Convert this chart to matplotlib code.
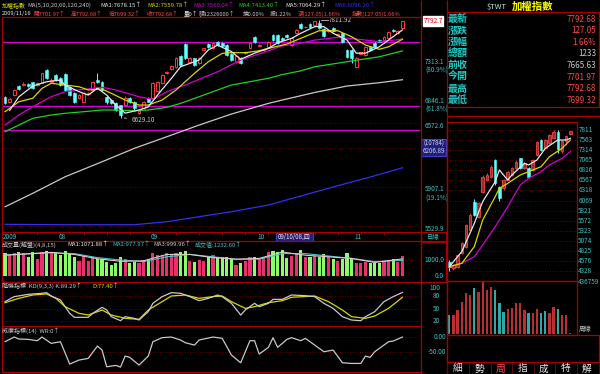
import numpy as np
import matplotlib
matplotlib.use("Agg")
import matplotlib.pyplot as plt
from matplotlib.patches import Rectangle

FONT = ['Noto Sans CJK TC', 'DejaVu Sans']
plt.rcParams['font.family'] = FONT

# ---- daily TAIEX candles, 2009/07 .. 2009/11/16 ----
opens = [6860, 6810, 6890, 6990, 7000, 7010, 7035, 7005, 7025, 7180,
         7035, 7120, 7085, 7130, 6980, 6910, 6850, 6805, 6900, 6944,
         7060, 7037, 6860, 6830, 6794, 6771, 6771, 6850, 6805, 6685,
         6737, 6850, 6851, 6930, 7025, 7145, 7195, 7216, 7350, 7500,
         7277, 7320, 7265, 7425, 7500, 7448, 7524, 7510, 7486, 7375,
         7277, 7325, 7390, 7448, 7587, 7480, 7425, 7461, 7613, 7613,
         7575, 7613, 7486, 7638, 7755, 7710, 7755, 7741, 7767, 7690,
         7665, 7703, 7615, 7638, 7424, 7424, 7216, 7380, 7362, 7461,
         7510, 7549, 7549, 7575, 7680, 7640, 7701.97]
highs = [6870, 6850, 6950, 7000, 7035, 7020, 7040, 7035, 7150, 7195,
         7080, 7135, 7100, 7140, 6990, 6920, 6895, 6920, 6925, 7050,
         7140, 7050, 6870, 6845, 6810, 6775, 6870, 6860, 6815, 6710,
         6815, 6860, 7035, 7050, 7130, 7170, 7235, 7335, 7360, 7510,
         7340, 7330, 7335, 7455, 7510, 7520, 7540, 7520, 7495, 7385,
         7360, 7335, 7415, 7520, 7600, 7500, 7450, 7535, 7625, 7625,
         7590, 7625, 7590, 7690, 7765, 7730, 7770, 7800, 7811.92, 7700,
         7690, 7715, 7640, 7650, 7435, 7435, 7335, 7405, 7470, 7475,
         7520, 7560, 7600, 7665, 7690, 7675, 7792.68]
lows = [6780, 6800, 6880, 6940, 6990, 6975, 6960, 6995, 7020, 7075,
        7020, 7050, 6990, 6930, 6870, 6790, 6840, 6800, 6890, 6935,
        7030, 6935, 6780, 6780, 6700, 6629.1, 6760, 6790, 6720, 6670,
        6725, 6800, 6840, 6920, 7015, 7135, 7185, 7205, 7230, 7310,
        7265, 7230, 7255, 7415, 7450, 7440, 7475, 7465, 7350, 7290,
        7265, 7255, 7380, 7440, 7515, 7470, 7415, 7450, 7540, 7500,
        7545, 7580, 7475, 7625, 7690, 7700, 7705, 7730, 7695, 7590,
        7655, 7655, 7605, 7510, 7325, 7265, 7200, 7370, 7350, 7415,
        7450, 7520, 7540, 7565, 7650, 7630, 7699.32]
closes = [6795, 6840, 6940, 6950, 7015, 6985, 6970, 7025, 7140, 7085,
          7065, 7060, 7000, 6945, 6885, 6805, 6885, 6910, 6910, 7037,
          7040, 6944, 6800, 6790, 6715, 6659, 6851, 6805, 6737, 6700,
          6805, 6810, 7025, 7040, 7120, 7160, 7225, 7325, 7240, 7325,
          7325, 7240, 7325, 7445, 7460, 7510, 7486, 7475, 7362, 7301,
          7350, 7265, 7405, 7510, 7524, 7490, 7440, 7524, 7549, 7510,
          7555, 7590, 7575, 7677, 7703, 7720, 7715, 7793, 7703, 7600,
          7680, 7665, 7630, 7524, 7338, 7325, 7325, 7395, 7461, 7424,
          7461, 7530, 7587, 7650, 7660, 7665.63, 7792.68]
volume = [1458, 1313, 1417, 1479, 1417, 1208, 1479, 1042, 1521, 1583,
          1417, 1521, 1313, 1583, 1417, 1167, 958, 1250, 958, 1167,
          1042, 1042, 896, 688, 833, 1208, 1042, 833, 896, 792,
          1000, 1042, 1417, 1313, 1313, 1458, 1375, 1417, 1521, 1583,
          958, 896, 1000, 958, 1208, 1313, 1167, 1208, 1167, 1042,
          688, 792, 958, 1167, 1208, 1042, 1167, 1479, 1583, 1521,
          1625, 1104, 1250, 1417, 1625, 1167, 1167, 1250, 1167, 1375,
          1167, 1042, 958, 1042, 1417, 1042, 833, 792, 896, 833,
          792, 792, 896, 958, 1042, 896, 1233]

months = ['2009', '08', '09', '10', '11']
month_idx = [0, 12, 32, 55, 76]

# moving averages, sampled along the lines (index, value)
ma5_x = [1, 3, 6, 9, 12, 13, 16, 18, 20, 22, 24, 26, 29, 31, 33, 36, 38, 42,
         44, 46, 49, 51, 54, 57, 59, 62, 64, 67, 69, 71, 74, 76, 78, 81, 83, 86]
ma5_v = [6710, 6865, 6990, 7040, 7060, 7000, 6925, 6885, 6965, 6885, 6770, 6680,
         6715, 6750, 6885, 7080, 7220, 7300, 7425, 7485, 7405, 7310, 7385, 7445,
         7515, 7570, 7635, 7720, 7720, 7635, 7550, 7385, 7385, 7465, 7550, 7678]
ma10_x = [0, 3, 6, 8, 10, 13, 16, 18, 21, 23, 26, 29, 31, 34, 37, 41, 44, 47,
          49, 52, 55, 58, 61, 64, 68, 72, 75, 78, 81, 83, 86]
ma10_v = [6696, 6809, 6848, 6963, 7022, 7002, 6982, 6944, 6955, 6905, 6828, 6771,
          6771, 6828, 6944, 7140, 7280, 7383, 7391, 7391, 7415, 7458, 7499, 7571,
          7668, 7668, 7591, 7486, 7433, 7465, 7560]
ma20_x = [0, 3, 6, 10, 13, 17, 21, 24, 29, 32, 35, 39, 46, 51, 57, 60, 64, 67,
          72, 77, 81, 86]
ma20_v = [6548, 6659, 6752, 6866, 6924, 6951, 6975, 6944, 6866, 6836, 6924, 7002,
          7159, 7301, 7415, 7475, 7508, 7549, 7583, 7556, 7528, 7560]
ma60_x = [0, 3, 6, 10, 13, 17, 21, 24, 28, 31, 35, 38, 42, 46, 49, 53, 57, 60,
          64, 67, 74, 81, 86]
ma60_v = [6475, 6548, 6622, 6659, 6678, 6696, 6715, 6715, 6707, 6715, 6745, 6790,
          6866, 6944, 7002, 7041, 7081, 7125, 7170, 7219, 7280, 7341, 7413]
ma120_x = [0, 6, 13, 21, 28, 35, 42, 49, 57, 60, 67, 74, 81, 86]
ma120_v = [5711, 5841, 6005, 6158, 6298, 6421, 6548, 6670, 6790, 6828, 6915,
           6990, 7029, 7064]
ma240_x = [0, 13, 28, 35, 42, 49, 57, 64, 72, 79, 86]
ma240_v = [5546, 5542, 5542, 5570, 5617, 5664, 5728, 5815, 5916, 6002, 6096]

price_lv = [7313.1, 6846.1, 6572.6, 6300, 5907.1, 5529.9]
price_lb = ['7313.1\n(80.9%)', '6846.1\n(61.8%)', '6572.6', '', '5907.1\n(19.1%)', '5529.9']
user_lines = [7524, 6760, 6494]

# volume moving averages
vma_x = [0, 5, 10, 15, 20, 25, 30, 35, 40, 45, 50, 55, 60, 65, 70, 75, 80, 86]
vma1 = [1300, 1380, 1480, 1350, 1080, 920, 950, 1350, 1350, 1150, 1050, 1100,
        1500, 1300, 1200, 1100, 850, 1072]
vma2 = [1320, 1400, 1450, 1400, 1150, 1000, 900, 1200, 1350, 1200, 1050, 1050,
        1400, 1400, 1250, 1100, 900, 978]

# KD (9,3,3)
k_x = [0, 2, 5, 8, 9, 10, 12, 14, 15, 18, 19, 21, 22, 23, 25, 26, 28, 29, 31, 32,
       34, 36, 38, 40, 42, 44, 46, 47, 49, 51, 52, 54, 55, 57, 58, 60, 62, 65, 67,
       69, 71, 73, 75, 77, 78, 80, 82, 84, 86]
k_v = [66.9, 79.0, 84.6, 87.1, 88.7, 80.6, 70.9, 38.6, 28.9, 28.9, 38.6, 53.1,
       46.7, 30.5, 20.8, 30.5, 26.5, 22.4, 42.6, 62.8, 79.0, 88.7, 87.1, 79.0,
       69.3, 74.9, 83.0, 79.0, 62.8, 34.5, 46.7, 62.8, 54.7, 62.8, 72.5, 72.5,
       83.0, 81.4, 79.0, 62.8, 50.7, 30.5, 22.4, 20.8, 30.5, 42.6, 66.9, 79.0, 89.29]
d_x = [0, 3, 6, 9, 11, 13, 16, 18, 21, 23, 26, 29, 31, 34, 36, 39, 42, 45, 47, 49,
       52, 54, 57, 60, 62, 67, 70, 73, 75, 78, 80, 83, 86]
d_v = [64.4, 74.9, 83.0, 85.5, 74.9, 54.7, 38.6, 34.5, 46.7, 34.5, 26.5, 24.0,
       46.7, 66.9, 80.6, 83.0, 74.9, 79.0, 80.6, 66.9, 50.7, 54.7, 64.4, 69.3,
       77.4, 80.6, 66.9, 46.7, 30.5, 26.5, 32.1, 50.7, 77.40]

# Williams %R (14)
wr_x = [0, 2, 3, 5, 7, 8, 10, 12, 14, 16, 18, 20, 21, 22, 24, 25, 26, 27, 29, 31,
        32, 34, 36, 38, 39, 41, 42, 45, 47, 49, 51, 53, 54, 55, 57, 58, 59, 61, 62,
        64, 65, 67, 69, 71, 73, 75, 77, 78, 79, 80, 83, 84, 86]
wr_v = [-15.6, 0, -6.7, -7.8, -12.2, 0, -21.1, -15.6, -90, -76.7, -71.1, -30,
        -43.3, -98.9, -94.4, -100, -63.3, -67.8, -93.3, -63.3, -15.6, -2.2, 0, -10,
        -18.9, -26.7, -10, 0, -4.4, -60, -85.6, -12.2, -12.2, -56.7, -34.4, -2.2,
        -34.4, -7.8, -2.2, -12.2, -4.4, -26.7, -48.9, -43.3, -85.6, -87.8, -87.8,
        -63.3, -67.8, -48.9, -15.6, -13.3, 0]

# ---- weekly chart (right panel) ----
w_open = [4559, 4394, 4436, 4765, 4930, 5341, 6041, 5670, 6288, 6576,
          6658, 7070, 6411, 6370, 6576, 6700, 6864, 7111, 6864, 6864,
          6823, 7194, 7564, 7358, 7482, 7605, 7770, 7300, 7550, 7702]
w_high = [4600, 4500, 4750, 5050, 5500, 5750, 6100, 6030, 6700, 6740,
          6950, 7090, 6440, 6600, 6800, 6900, 7060, 7130, 7010, 6900,
          7090, 7540, 7590, 7590, 7710, 7812, 7800, 7560, 7700, 7793]
w_low = [4328, 4350, 4400, 4740, 4900, 5300, 5690, 5640, 6250, 6550,
         6620, 6450, 6050, 6330, 6550, 6680, 6840, 6840, 6840, 6629,
         6800, 7170, 7290, 7330, 7460, 7590, 7250, 7240, 7450, 7699]
w_close = [4436, 4476, 4724, 5012, 5465, 5712, 5712, 6000, 6658, 6700,
           6905, 6494, 6123, 6576, 6782, 6864, 7029, 6864, 6988, 6658,
           7070, 7523, 7317, 7564, 7688, 7770, 7340, 7540, 7666, 7793]
w_vol = [159600, 159600, 201600, 271600, 341600, 327600, 383600, 355600, 436759, 369600,
         397500, 369600, 257600, 187600, 207200, 215500, 263200, 257600, 201600, 179000,
         173400, 207200, 173400, 193200, 179000, 224000, 207200, 162400, 159600, 5600]
w_vol_up = [0, 1, 1, 1, 1, 1, 0, 1, 1, 1, 1, 0, 0, 0, 1, 1, 1, 1, 1, 0,
            1, 1, 0, 0, 1, 1, 0, 1, 1, 1]
wma5_x = [0, 3, 6, 8, 11, 12, 14, 15, 18, 19, 21, 23, 26, 28, 29]
wma5_v = [4436, 4806, 5506, 6041, 6535, 6823, 6576, 6700, 6988, 6947, 7070, 7358,
          7564, 7564, 7605]
wma10_x = [0, 3, 6, 8, 11, 12, 14, 17, 19, 22, 24, 27, 29]
wma10_v = [4436, 4518, 4930, 5588, 6164, 6370, 6494, 6700, 6782, 6905, 7152, 7358, 7564]
wma20_x = [0, 3, 6, 8, 11, 14, 17, 19, 22, 24, 27, 29]
wma20_v = [4436, 4518, 4683, 4970, 5423, 5917, 6453, 6617, 6782, 6947, 7111, 7276]
week_lv = [7811, 7563, 7314, 7065, 6816, 6567, 6318, 6069, 5821, 5572, 5323,
           5074, 4825, 4576, 4328]

quote_lb = ['最新', '漲跌', '漲幅', '總額', '前收', '今開', '最高', '最低']
quote_val = ['7792.68', '127.05', '1.66%', '1233', '7665.63', '7701.97', '7792.68', '7699.32']
buttons = ['細', '勢', '周', '指', '成', '特', '解']

# ---- colours ----
RED = '#a80000'
GRID = '#8a0000'
TEAL = '#3cc4c4'
GRAY = '#c8c8c8'
WHITE = '#e8e8e8'
YEL = '#d8d800'
MAG = '#d000d0'
GRN = '#20d020'
BLUE = '#3030f0'
TXTRED = '#ff4848'
UP = '#ff3838'
DN = '#60ffff'
VUP = '#e8306e'
VDN = '#88ff66'

W, H = 600, 374
fig = plt.figure(figsize=(6, 3.74), dpi=100)
fig.patch.set_facecolor('black')


def panel(x0, y0, x1, y1):
    ax = fig.add_axes([x0 / W, 1 - y1 / H, (x1 - x0) / W, (y1 - y0) / H])
    ax.set_facecolor('black')
    ax.tick_params(which='both', left=False, bottom=False, labelleft=False, labelbottom=False)
    for s in ax.spines.values():
        s.set_visible(False)
    return ax


def txt(x, y, s, c, size=4.3, ha='left', **kw):
    fig.text(x / W, 1 - y / H, s, color=c, fontsize=size, ha=ha, va='center', **kw)


def candles(ax, o, h, l, c, width, min_h, lw=0.7, up_fill='black', up_col=UP):
    o, h, l, c = map(np.asarray, (o, h, l, c))
    x = np.arange(len(o))
    up = c >= o
    ax.vlines(x, l, h, colors=np.where(up, up_col, DN), lw=lw, zorder=3)
    bot = np.minimum(o, c)
    hgt = np.maximum(np.abs(c - o), min_h)
    ax.bar(x[up], hgt[up], width, bot[up], facecolor=up_fill, edgecolor=up_col, lw=lw, zorder=4)
    ax.bar(x[~up], hgt[~up], width, bot[~up], facecolor=DN, edgecolor=DN, lw=0.4, zorder=4)
    return up


def dotted(ax, levels):
    for v in levels:
        ax.axhline(v, color=GRID, lw=0.6, ls=(0, (1, 2)), zorder=1)


XLIM = (-0.65, 89.8)

# ---- main price panel ----
ax = panel(2, 17, 420, 232)
ax.set_yscale('log')
ax.set_ylim(5475, 7846)
ax.set_xlim(*XLIM)
ax.tick_params(which='both', left=False, labelleft=False)
dotted(ax, price_lv)
for v in user_lines:
    ax.axhline(v, color=MAG, lw=1.0, zorder=2)
for xs, vs, col in [(ma240_x, ma240_v, BLUE), (ma120_x, ma120_v, GRAY),
                    (ma60_x, ma60_v, GRN), (ma20_x, ma20_v, MAG),
                    (ma10_x, ma10_v, YEL), (ma5_x, ma5_v, WHITE)]:
    ax.plot(xs, vs, color=col, lw=0.9, zorder=5)
up = candles(ax, opens, highs, lows, closes, 0.62, 6)
ax.plot([68.4, 69.9], [7811.92, 7811.92], color=GRAY, lw=0.6)
ax.text(70.0, 7811.92, '7811.92', color=GRAY, fontsize=4.6, va='center')
ax.annotate('6629.10', xy=(25.2, 6629.1), xytext=(27.5, 6603), color=GRAY, fontsize=4.6,
            va='center', arrowprops=dict(arrowstyle='-', color=GRAY, lw=0.6))
ytr = ax.get_yaxis_transform()
for v, s in zip(price_lv, price_lb):
    if s:
        ax.text(1.012, v * 1.0022, s, transform=ytr, color=TEAL, fontsize=4.6, va='top',
                linespacing=1.15, clip_on=False)
ax.text(1.008, closes[-1], '7792.7', transform=ytr, color='#e00000', fontsize=4.6,
        va='center', bbox=dict(boxstyle='square,pad=0.12', fc='white', ec='white'))

# ---- date strip ----
ds = panel(2, 232, 420, 241)
ds.set_xlim(*XLIM)
ds.set_ylim(0, 1)
for i, m in zip(month_idx, months):
    ds.text(i - 0.4, 0.45, m, color=TEAL, fontsize=4.6, va='center')
ds.vlines(np.arange(2, 87, 5), 0.7, 1.0, color=RED, lw=0.6)

# ---- volume panel ----
av = panel(2, 241, 420, 282)
av.set_xlim(*XLIM)
av.set_ylim(-375, 2190)
dotted(av, [1000])
xs = np.arange(len(volume))
av.bar(xs, volume, 0.68, color=np.where(up, VUP, VDN), zorder=3)
av.plot(vma_x, vma2, color='#40c8c8', lw=0.8, zorder=4)
av.plot(vma_x, vma1, color='#e0c8d0', lw=0.8, zorder=4)
vtr = av.get_yaxis_transform()
av.text(1.057, 1000, '1000.0', transform=vtr, color=TEAL, fontsize=4.6, va='center', ha='right')
av.text(1.057, 0, '0.0', transform=vtr, color=TEAL, fontsize=4.6, va='center', ha='right')

# ---- KD panel ----
ak = panel(2, 282, 420, 326)
ak.set_xlim(*XLIM)
ak.set_ylim(7.9, 114.5)
dotted(ak, [80, 50, 20])
ak.plot(d_x, d_v, color=YEL, lw=0.9)
ak.plot(k_x, k_v, color=GRAY, lw=0.9)
ktr = ak.get_yaxis_transform()
for v in [100, 80, 50, 20]:
    ak.text(1.048, v, str(v), transform=ktr, color=TEAL, fontsize=4.6, va='center', ha='right')

# ---- Williams %R panel ----
aw = panel(2, 326, 420, 371)
aw.set_xlim(*XLIM)
aw.set_ylim(-113, 36.7)
dotted(aw, [0, -50])
aw.plot(wr_x, wr_v, color=GRAY, lw=0.9)
wtr = aw.get_yaxis_transform()
aw.text(1.062, 0, '0.00', transform=wtr, color=TEAL, fontsize=4.6, va='center', ha='right')
aw.text(1.062, -50, '-50.00', transform=wtr, color=TEAL, fontsize=4.6, va='center', ha='right')

# ---- weekly price panel ----
WXLIM = (-0.55, 30.6)
ax2 = panel(447, 122, 577, 281)
ax2.set_xlim(*WXLIM)
ax2.set_ylim(4081, 8009)
dotted(ax2, week_lv)
candles(ax2, w_open, w_high, w_low, w_close, 0.62, 15, up_fill='#a02828', up_col='#d84040')
ax2.plot(wma20_x, wma20_v, color=MAG, lw=0.9, zorder=5)
ax2.plot(wma10_x, wma10_v, color=YEL, lw=0.9, zorder=5)
ax2.plot(wma5_x, wma5_v, color=WHITE, lw=0.9, zorder=5)
w2tr = ax2.get_yaxis_transform()
for v in week_lv:
    ax2.text(1.01, v, str(v), transform=w2tr, color=TEAL, fontsize=4.6, va='center')

# ---- weekly volume panel ----
ax3 = panel(447, 281, 577, 335)
ax3.set_xlim(*WXLIM)
ax3.set_ylim(-8400, 445000)
ax3.bar(np.arange(len(w_vol)), w_vol, 0.55,
        color=np.where(np.array(w_vol_up) == 1, '#b83030', '#30a8a8'))
ax3.text(1.01, 436759, '436759', transform=ax3.get_yaxis_transform(), color=TEAL,
         fontsize=4.6, va='center')
ax3.text(1.01, 5000, '周線', transform=ax3.get_yaxis_transform(), color=GRAY,
         fontsize=4.6, va='bottom')

# ---- frame overlay (pixel coordinates) ----
ov = fig.add_axes([0, 0, 1, 1])
ov.set_xlim(0, W)
ov.set_ylim(H, 0)
ov.axis('off')
ov.patch.set_alpha(0)


def line(xs_, ys_, c=RED, lw=0.9):
    ov.plot(xs_, ys_, color=c, lw=lw, solid_capstyle='butt')


def rect(x0, y0, x1, y1, fc='none', ec=RED, lw=0.9):
    ov.add_patch(Rectangle((x0, y0), x1 - x0, y1 - y0, fc=fc, ec=ec, lw=lw))


line([1.5, 1.5], [17, 372])
line([420.5, 420.5], [0, 374])
line([446.5, 446.5], [0, 374])
for yy in [17, 232, 241, 282, 326, 371.5]:
    line([1.5, 420.5], [yy, yy])
rect(421, 232, 446, 241)
rect(421, 242, 446, 281.5)
line([446.5, 600], [12, 12])
line([598.5, 598.5], [12, 107])
line([446.5, 600], [107, 107])
line([446.5, 600], [116, 116])
rect(447, 122, 577, 281)
rect(447, 281, 577, 335)
rect(447, 335, 599, 362)
for bx in [447, 469, 491, 512, 534, 555, 577, 599]:
    line([bx, bx], [363, 374], c='#501010', lw=0.8)

# cursor boxes
rect(421, 139, 446, 156, fc='#202078', ec='#4040c0', lw=0.8)
txt(433.5, 143.5, '(10784)', '#d0d0ff', size=4.4, ha='center')
txt(433.5, 151.5, '6206.89', '#d0d0ff', size=4.4, ha='center')
rect(276, 233, 313, 240.5, fc='#202078', ec='#4040c0', lw=0.8)
txt(278, 236.8, '09/10/08,四', WHITE, size=4.4)
txt(427, 236.8, '日線', TEAL, size=4.6)

# ---- header texts ----
for x, s, c in [(2, '加權指數', YEL), (27, 'MA(5,10,20,60,120,240)', GRAY),
                (100, 'MA1:7678.15↑', WHITE), (147, 'MA2:7559.78↑', YEL),
                (193, 'MA3:7560.04↑', MAG), (238, 'MA4:7413.40↑', GRN),
                (285, 'MA5:7064.29↑', WHITE), (334, 'MA6:6096.20↑', BLUE)]:
    txt(x, 5, s, c)
for x, s, c in [(2, '2009/11/16', WHITE), (33, '開7701.97↑', TXTRED),
                (71, '高7792.68↑', TXTRED), (109, '低7699.32↑', TXTRED),
                (147, '收7792.68↑', TXTRED), (184, '量0↑', WHITE),
                (199, '額12326000↑', GRAY), (243, '換0.00%', GRAY),
                (270, '振1.22%', GRAY), (298, '漲(127.05)1.66%', TXTRED),
                (352, '指數(127.05)1.66%', TXTRED)]:
    txt(x, 14, s, c, size=4.1)
for x, s, c in [(2, '成交量(解盤)(4,8,15)', GRAY), (67, 'MA1:1071.88↑', WHITE),
                (112, 'MA2:977.97↑', TEAL), (153, 'MA3:999.96↑', GRAY),
                (195, '成交值:1232.60↑', TEAL)]:
    txt(x, 244.5, s, c)
txt(2, 286, '隨機指標  KD(9,3,3) K:89.29↑', GRAY)
txt(92, 286, 'D:77.40↑', YEL)
txt(2, 331, '威廉指標(14)  WR:0↑', GRAY)

# ---- quote table ----
txt(487, 6.5, '$TWT', '#b0f0d0', size=5.5)
txt(512, 6.5, '加權指數', '#ffff00', size=7.5, fontweight='bold')
for k, (lb, vl) in enumerate(zip(quote_lb, quote_val)):
    yy = 19 + k * 11.6
    txt(448, yy, lb, '#20c8c8', size=7.2, fontweight='bold')
    col = GRAY if lb in ('總額', '前收') else TXTRED
    txt(596, yy, vl, col, size=5.8, ha='right')

# ---- bottom buttons ----
for k, b in enumerate(buttons):
    txt(458 + k * 21.5, 368.5, b, TXTRED if b == '周' else WHITE, size=7, ha='center')

fig.savefig('out.png', dpi=100, facecolor='black')
